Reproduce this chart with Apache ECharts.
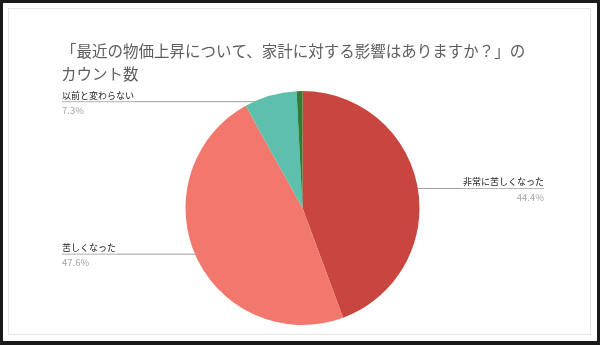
<!DOCTYPE html>
<html lang="ja">
<head>
<meta charset="utf-8">
<script src="https://cdn.jsdelivr.net/npm/echarts@6/dist/echarts.min.js"></script>
<style>
  html, body { margin: 0; padding: 0; background: #fff; }
  #wrap { position: relative; width: 600px; height: 345px; overflow: hidden; }
  #chart { position: absolute; left: 3px; top: 0; width: 600px; height: 345px; }
  #frame {
    position: absolute; left: 0; top: 0; width: 600px; height: 345px;
    box-sizing: border-box; border: 3px solid #1a1a1a; border-bottom-width: 4px;
    pointer-events: none;
  }
  #inner {
    position: absolute; left: 5px; top: 5px; right: 6px; bottom: 6px;
    border: 1px solid #e6e6e6; pointer-events: none;
  }
</style>
</head>
<body>
<div id="wrap">
  <div id="chart"></div>
  <div id="frame"><div id="inner"></div></div>
</div>
<script>
// Survey answers (counts) for the household-impact question
const categories = ['非常に苦しくなった', '苦しくなった', '以前と変わらない', '楽になった'];
const counts = [55, 59, 9, 1];
const colors = ['#c8463f', '#f2776c', '#5cc0ad', '#2e7d32'];
const titleText = '「最近の物価上昇について、家計に対する影響はありますか？」の\nカウント数';

const total = counts.reduce((a, b) => a + b, 0);
const FONT = '"Noto Sans CJK JP", "Noto Sans", sans-serif';

// Pie geometry (chart-local pixels)
const PIE_CX = 299.5, PIE_CY = 208, PIE_R = 117;
const START_ANGLE = 90;
// Leader lines start slightly inside the slice rim
const ANCHOR_RATIO = 0.945;

// Mid angle (math degrees) of each slice, going clockwise from 12 o'clock
const midAngles = (() => {
  let cum = 0;
  return counts.map(v => {
    const a = START_ANGLE - (cum + v / 2) / total * 360;
    cum += v;
    return a;
  });
})();

const chart = echarts.init(document.getElementById('chart'), null, { renderer: 'canvas' });

chart.setOption({
  animation: false,
  backgroundColor: 'transparent',
  title: {
    text: titleText,
    left: 53,
    top: 35,
    textStyle: {
      fontFamily: FONT,
      fontSize: 15.5,
      fontWeight: 'normal',
      color: '#5e5e5e',
      lineHeight: 23
    }
  },
  series: [{
    type: 'pie',
    center: [PIE_CX, PIE_CY],
    radius: PIE_R,
    startAngle: START_ANGLE,
    clockwise: true,
    avoidLabelOverlap: true,
    data: categories.map((name, i) => ({
      name,
      value: counts[i],
      itemStyle: { color: colors[i] },
      label: { show: counts[i] / total > 0.02 },
      labelLine: { show: counts[i] / total > 0.02 }
    })),
    itemStyle: { borderWidth: 0 },
    label: {
      position: 'outside',
      alignTo: 'edge',
      edgeDistance: 59,
      distanceToLabelLine: 0,
      padding: [4, 0, 0, 0],
      fontFamily: FONT,
      formatter: p => '{name|' + p.name + '}\n{hr|}\n{per|' + (p.value / total * 100).toFixed(1) + '%}',
      rich: {
        name: { fontFamily: FONT, fontSize: 9, lineHeight: 12, color: '#1a1a1a' },
        hr: { width: '100%', height: 0, lineHeight: 1, borderColor: '#9e9e9e', borderWidth: 0.5 },
        per: { fontFamily: FONT, fontSize: 9.5, lineHeight: 16, color: '#a6a6a6' }
      }
    },
    labelLine: {
      show: true,
      length: 0,
      length2: 10,
      lineStyle: { color: '#9e9e9e', width: 1 }
    },
    // Horizontal leader from a point inside the slice to the label
    labelLayout: params => {
      const a = midAngles[params.dataIndex] * Math.PI / 180;
      const ax = PIE_CX + PIE_R * ANCHOR_RATIO * Math.cos(a);
      const ay = PIE_CY - PIE_R * ANCHOR_RATIO * Math.sin(a);
      const rect = params.labelRect;
      const right = ax > PIE_CX;
      const endX = right ? rect.x : rect.x + rect.width;
      return {
        y: ay,
        labelLinePoints: [[ax, ay], [ax, ay], [endX, ay]]
      };
    }
  }]
});
</script>
</body>
</html>
